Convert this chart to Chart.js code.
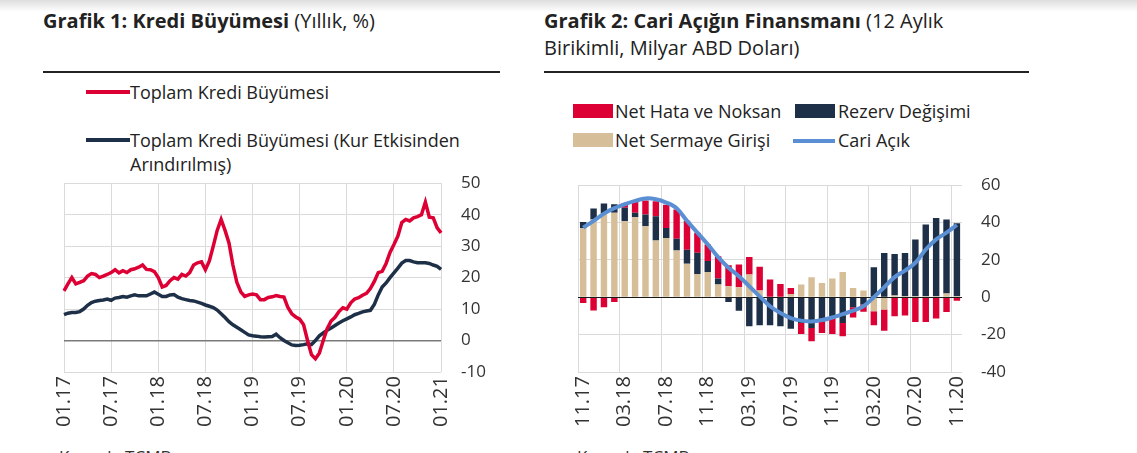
<!DOCTYPE html>
<html>
<head>
<meta charset="utf-8">
<script src="https://cdn.jsdelivr.net/npm/chart.js@4.4.1/dist/chart.umd.min.js"></script>
<style>
  body { margin: 0; width: 1137px; height: 453px; overflow: hidden; background: #fff; font-family: 'Open Sans', sans-serif; color: #222; position: relative; }
  .shadow { position: absolute; left: 0; top: 0; width: 1137px; height: 12px; background: linear-gradient(rgba(0,0,0,0.13), rgba(0,0,0,0)); }
  .title { position: absolute; top: 7px; font-size: 20px; line-height: 27px; }
  .title b { font-weight: 700; }
  .rule { position: absolute; top: 71px; height: 2px; background: #222; }
  .leg { position: absolute; font-size: 18px; line-height: 24px; white-space: nowrap; }
  .sw { position: absolute; }
  .src { position: absolute; top: 445px; font-size: 17px; color: #333; }
  canvas { position: absolute; }
</style>
</head>
<body>
<div class="shadow"></div>

<div class="title" style="left:43px"><b>Grafik 1: Kredi Büyümesi</b> (Yıllık, %)</div>
<div class="rule" style="left:43px;width:457px"></div>
<div class="title" style="left:544px"><b>Grafik 2: Cari Açığın Finansmanı</b> (12 Aylık<br>Birikimli, Milyar ABD Doları)</div>
<div class="rule" style="left:544px;width:485px"></div>

<div class="sw" style="left:86px;top:90px;width:44px;height:4px;background:#dc0034"></div>
<div class="leg" style="left:130px;top:80px">Toplam Kredi Büyümesi</div>
<div class="sw" style="left:86px;top:138px;width:44px;height:4px;background:#1e3048"></div>
<div class="leg" style="left:130px;top:128px">Toplam Kredi Büyümesi (Kur Etkisinden<br>Arındırılmış)</div>

<div class="sw" style="left:573px;top:104px;width:40px;height:14px;background:#dc0034"></div>
<div class="leg" style="left:615px;top:99px">Net Hata ve Noksan</div>
<div class="sw" style="left:795px;top:104px;width:40px;height:14px;background:#1e3048"></div>
<div class="leg" style="left:838px;top:99px">Rezerv Değişimi</div>
<div class="sw" style="left:573px;top:133px;width:40px;height:14px;background:#d6bf98"></div>
<div class="leg" style="left:615px;top:128px">Net Sermaye Girişi</div>
<div class="sw" style="left:793px;top:139px;width:42px;height:4px;background:#5b8fd3"></div>
<div class="leg" style="left:838px;top:128px">Cari Açık</div>

<canvas id="c1" width="466" height="278" style="left:40px;top:153px"></canvas>
<canvas id="c2" width="465" height="275" style="left:560px;top:156px"></canvas>

<div class="src" style="left:59px">Kaynak: TCMB</div>
<div class="src" style="left:577px">Kaynak: TCMB</div>

<script>
// Grafik 1: yarım aylık gözlemler, 01.17 - 01.21
let tickLabels1 = ['01.17','07.17','01.18','07.18','01.19','07.19','01.20','07.20','01.21'];
let krediToplam = [15.8,18,20,18,18.5,19,20.5,21.3,21,20,
  20.5,21,21.6,22.5,21.5,22.2,21.6,22.5,22.8,23.3,
  24,22.6,22.5,21.9,20,17,17.5,19,20,19.5,
  21,20.5,21.6,24,24.7,25,22.5,25.3,30,35,
  38.5,35,31,24,18.5,15.5,14,14.5,14.8,14.5,
  13,13,13.7,13.9,14.3,14,13.8,10.5,8.5,7.5,
  6.8,5,0,-4.5,-5.8,-4,0,3.8,6.2,7.4,
  9.2,10.4,10,12,13.2,13.6,14.4,15,16.5,18.8,
  21.6,22,24.5,28,30.5,33.2,37.5,38.5,38,39,
  39.4,40,44,39.2,39,35.8,34.2];
let krediKurArindirilmis = [8.2,8.7,8.9,8.9,9.2,10,11.2,12.1,12.5,12.7,
  12.9,13.2,12.8,13.5,13.7,14,13.8,14.2,14.5,14.2,
  14.2,14.2,14.8,15.4,14.7,14,14,14.5,14.6,13.8,
  13.3,13,12.7,12.6,12.2,11.8,11.3,10.9,10.5,9.7,
  8.5,7.3,6,5,4.2,3.4,2.6,1.8,1.5,1.4,
  1.2,1.1,1.2,1.3,2,0.9,0,-0.7,-1.4,-1.6,
  -1.5,-1.3,-1,-1.3,0,1.5,2.4,3.3,4,4.8,
  5.6,6.3,6.9,7.5,8.2,8.6,9.1,9.4,9.6,11.5,
  14.5,17,18.3,20,21.5,23,24.6,25.4,25.4,25,
  24.7,24.7,24.7,24.5,24,23.6,22.6];

// Grafik 2: aylık, 11.17 - 11.20
let aylar = ['11.17','12.17','01.18','02.18','03.18','04.18','05.18','06.18','07.18','08.18',
  '09.18','10.18','11.18','12.18','01.19','02.19','03.19','04.19','05.19','06.19',
  '07.19','08.19','09.19','10.19','11.19','12.19','01.20','02.20','03.20','04.20',
  '05.20','06.20','07.20','08.20','09.20','10.20','11.20'];
let netSermaye = [37,41.6,45,45.3,40.7,42.9,38,30.4,31.8,25,
  17.9,12.5,13.6,6.8,5.9,5.4,12.2,3.6,0,0,
  1.8,6.8,10.7,7.7,10,13.6,5,3.6,-7.5,-6.6,
  1,0.5,0.5,0.5,0.5,2,0.5];
let rezerv = [3.3,5.9,5.2,4.5,7.2,2.3,6.3,13,5.3,6.4,
  7.6,11.3,5.8,3.2,-2.5,-7.2,-15.5,-15,-15,-15.5,
  -16.8,-13.8,-16.4,-12.9,-11.4,-13.8,-5.4,-3.9,16.1,23.7,
  22.2,23.2,30.4,38.4,42,39.6,39.1];
let netHata = [-3,-7.1,-5.4,-2.5,2.6,6.6,7.5,8,12.5,15.6,
  15.5,10.8,8.9,12,11.3,12.2,9.3,12.7,9.5,7.1,
  3.2,-5.9,-7.1,-6.2,-8.2,-7.1,-5.4,-3.9,-7.5,-11.3,
  -10.2,-9.8,-13.2,-13.2,-11.4,-7.9,-1.8];
let cariAcik = [37.3,40.9,44.8,47.7,49.8,51.6,52.9,52.5,50.7,47.7,
  40.9,34.6,28.3,21.5,15.8,11.3,5.9,0.5,-4.8,-8.4,
  -11.1,-12.5,-12.9,-12.2,-10.8,-9,-7.2,-4.8,0,5.4,
  10.8,14.3,18.5,25.6,31,34.6,38.7];

Chart.defaults.font.family = "'Open Sans', sans-serif";
Chart.defaults.font.size = 17;
Chart.defaults.color = '#333';
Chart.defaults.animation = false;

let gridGray = '#dadada';

// category labels: one every 12 half-months gets a tick label
let labels1 = krediToplam.map(function(v, i){ return i % 12 === 0 ? tickLabels1[i / 12] : ''; });

new Chart(document.getElementById('c1'), {
  type: 'line',
  data: {
    labels: labels1,
    datasets: [{
      label: 'Toplam Kredi Büyümesi',
      data: krediToplam,
      borderColor: '#dc0034',
      borderWidth: 3.5,
      pointRadius: 0,
      tension: 0
    }, {
      label: 'Toplam Kredi Büyümesi (Kur Etkisinden Arındırılmış)',
      data: krediKurArindirilmis,
      borderColor: '#1e3048',
      borderWidth: 3.5,
      pointRadius: 0,
      tension: 0
    }]
  },
  options: {
    responsive: false,
    layout: { padding: { left: 24, right: 0, top: 0, bottom: 0 } },
    plugins: { legend: { display: false }, tooltip: { enabled: false } },
    scales: {
      x: {
        offset: false,
        border: { display: false },
        grid: {
          drawTicks: false,
          color: function(c){ return c.index % 12 === 0 ? gridGray : 'rgba(0,0,0,0)'; }
        },
        ticks: {
          autoSkip: false, maxRotation: 90, minRotation: 90, padding: 4,
          font: { size: 20 },
          callback: function(v, i){ return labels1[i]; }
        }
      },
      y: {
        position: 'right',
        min: -10, max: 50,
        border: { display: false },
        grid: {
          drawTicks: false,
          color: function(c){ return c.tick && c.tick.value === 0 ? '#7a7a7a' : gridGray; },
          lineWidth: function(c){ return c.tick && c.tick.value === 0 ? 1.5 : 1; }
        },
        ticks: { stepSize: 10, padding: 20 }
      }
    }
  }
});

let zeroLine = {
  id: 'zeroLine',
  beforeDatasetDraw: function(chart, args){
    if (args.meta.type !== 'line') return;
    let y = Math.round(chart.scales.y.getPixelForValue(0)) + 0.5;
    let ctx = chart.ctx;
    ctx.save();
    ctx.strokeStyle = '#1a1a1a';
    ctx.lineWidth = 1;
    ctx.beginPath();
    ctx.moveTo(chart.chartArea.left, y);
    ctx.lineTo(chart.chartArea.right, y);
    ctx.stroke();
    ctx.restore();
  }
};

new Chart(document.getElementById('c2'), {
  type: 'bar',
  data: {
    labels: aylar,
    datasets: [{
      label: 'Net Sermaye Girişi',
      data: netSermaye,
      backgroundColor: '#d6bf98',
      stack: 'bars',
      barPercentage: 0.62,
      categoryPercentage: 1
    }, {
      label: 'Rezerv Değişimi',
      data: rezerv,
      backgroundColor: '#1e3048',
      stack: 'bars',
      barPercentage: 0.62,
      categoryPercentage: 1
    }, {
      label: 'Net Hata ve Noksan',
      data: netHata,
      backgroundColor: '#dc0034',
      stack: 'bars',
      barPercentage: 0.62,
      categoryPercentage: 1
    }, {
      type: 'line',
      label: 'Cari Açık',
      data: cariAcik,
      borderColor: '#5b8fd3',
      borderWidth: 4,
      pointRadius: 0,
      tension: 0.35,
      order: -1
    }]
  },
  options: {
    responsive: false,
    layout: { padding: { left: 18, right: 0, top: 0, bottom: 0 } },
    plugins: { legend: { display: false }, tooltip: { enabled: false } },
    scales: {
      x: {
        stacked: true,
        offset: true,
        border: { display: false },
        grid: {
          offset: true,
          drawTicks: false,
          color: function(c){ return c.index % 4 === 0 ? gridGray : 'rgba(0,0,0,0)'; }
        },
        ticks: {
          autoSkip: false, maxRotation: 90, minRotation: 90, padding: 4,
          font: { size: 20 },
          callback: function(v, i){ return i % 4 === 0 ? aylar[i] : ''; }
        }
      },
      y: {
        stacked: true,
        position: 'right',
        min: -40, max: 60,
        border: { display: false },
        grid: { drawTicks: false, color: gridGray },
        ticks: { stepSize: 20, padding: 19 }
      }
    }
  },
  plugins: [zeroLine]
});
</script>
</body>
</html>
